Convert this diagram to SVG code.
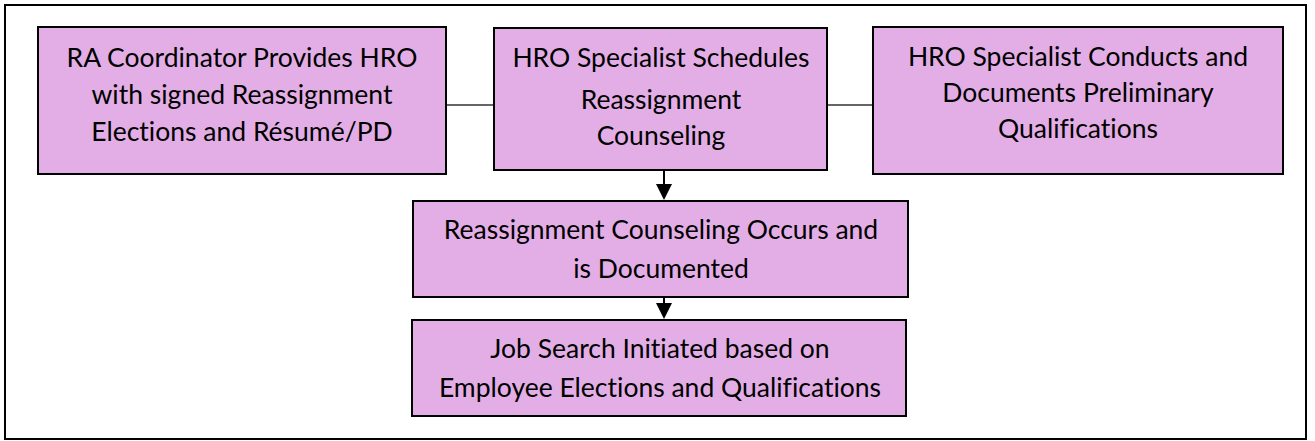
<svg xmlns="http://www.w3.org/2000/svg" width="1315" height="441" viewBox="0 0 1315 441">
<defs>
<style>
.box{fill:#E3AEE6;stroke:#000;stroke-width:2}
.t{font-family:Lato,"Liberation Sans",sans-serif;font-size:26.5px;fill:#000;text-anchor:middle;font-variant-ligatures:none}
.ln{stroke:#333;stroke-width:1.5;fill:none}
.ar{stroke:#000;stroke-width:2;fill:none}
.hd{fill:#000}
</style>
</defs>
<rect x="5" y="5" width="1301" height="434" fill="#fff" stroke="#000" stroke-width="2"/>
<g id="connectors">
<line class="ln" x1="446" y1="105" x2="494" y2="105"/>
<line class="ln" x1="827" y1="105" x2="873" y2="105"/>
<line class="ar" x1="664" y1="171" x2="664" y2="186"/>
<path class="hd" d="M656,184 L672,184 L664,200 Z"/>
<line class="ar" x1="664" y1="298" x2="664" y2="305"/>
<path class="hd" d="M656,303 L672,303 L664,319 Z"/>
</g>
<g id="n1">
<rect class="box" x="38" y="27" width="408" height="147"/>
<text class="t" x="242" y="67">RA Coordinator Provides HRO</text>
<text class="t" x="242" y="104">with signed Reassignment</text>
<text class="t" x="242" y="141">Elections and Résumé/PD</text>
</g>
<g id="n2">
<rect class="box" x="494" y="28" width="333" height="142"/>
<text class="t" x="661" y="67">HRO Specialist Schedules</text>
<text class="t" x="661" y="109">Reassignment</text>
<text class="t" x="661" y="145">Counseling</text>
</g>
<g id="n3">
<rect class="box" x="873" y="27" width="410" height="147"/>
<text class="t" x="1078" y="66">HRO Specialist Conducts and</text>
<text class="t" x="1078" y="102">Documents Preliminary</text>
<text class="t" x="1078" y="138">Qualifications</text>
</g>
<g id="n4">
<rect class="box" x="413" y="201" width="495" height="96"/>
<text class="t" x="661" y="239">Reassignment Counseling Occurs and</text>
<text class="t" x="661" y="278">is Documented</text>
</g>
<g id="n5">
<rect class="box" x="412" y="320" width="494" height="96"/>
<text class="t" x="660" y="358">Job Search Initiated based on</text>
<text class="t" x="660" y="397">Employee Elections and Qualifications</text>
</g>
</svg>
